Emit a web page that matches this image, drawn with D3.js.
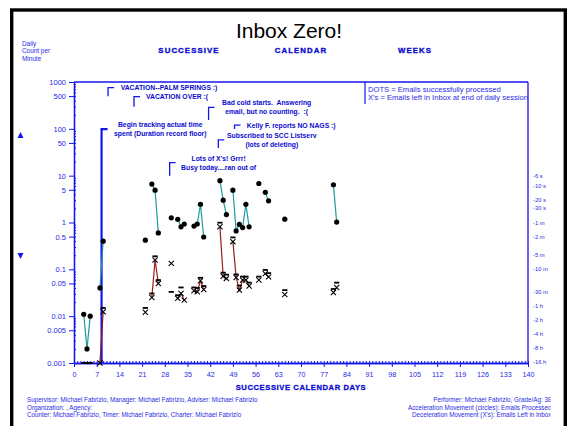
<!DOCTYPE html>
<html>
<head>
<meta charset="utf-8">
<script src="https://cdn.jsdelivr.net/npm/d3@7"></script>
<style>
  body { margin: 0; background: #fff; }
  text { font-family: "Liberation Sans", Arial, sans-serif; }
</style>
</head>
<body>
<div id="chart"></div>
<script>
// calendar day of each recorded session
var days = [3, 4, 5, 8, 9, 22, 24, 25, 26, 30, 32, 33, 34, 37, 38, 39, 40, 45, 46, 47,
  49, 50, 51, 52, 53, 54, 57, 59, 60, 65, 80, 81];
// emails processed per minute (dots)
var dots = [0.011, 0.002, 0.01, 0.04, 0.4, 0.42, 6.6, 4.9, 0.6, 1.26, 1.17, 0.81, 0.93, 0.84, 0.93, 2.45, 0.49, 7.8, 3.0, 1.48,
  4.9, 0.66, 0.91, 0.78, 2.45, 0.81, 6.8, 4.4, 2.9, 1.18, 6.4, 1.02];
// emails left in inbox per minute (X's)
var crosses = [null, null, null, 0.001, 0.0124, 0.0121, 0.025, 0.158, 0.05, 0.134, 0.024, 0.0305, 0.022, 0.035, 0.033, 0.057, 0.037, 0.81, 0.071, 0.064,
  0.39, 0.067, 0.036, 0.059, 0.059, 0.044, 0.059, 0.081, 0.069, 0.029, 0.032, 0.041];
// record floor (1 / duration)
var floors = [0.001, 0.001, 0.001, null, 0.015, 0.015, 0.0305, 0.19, 0.059, 0.033, 0.028, 0.041, null, 0.041, 0.04, 0.066, 0.044, 0.99, 0.085, 0.077,
  0.48, 0.078, 0.045, 0.07, 0.07, 0.052, 0.07, 0.097, 0.083, 0.036, 0.038, 0.052];

var yTicks = [1000, 500, 100, 50, 10, 5, 1, 0.5, 0.1, 0.05, 0.01, 0.005, 0.001];
var xTicks = d3.range(0, 141, 7);
var rightSeconds = [6, 10, 20, 30, 60, 120, 300, 600, 1800, 3600, 7200, 14400, 28800, 57600];
var rightLabels = ["-6 s", "-10 s", "-20 s", "-30 s", "-1 m", "-2 m", "-5 m", "-10 m", "-30 m", "-1 h", "-2 h", "-4 h", "-8 h", "-16 h"];
var topWords = ["SUCCESSIVE", "CALENDAR", "WEEKS"];
var legendLines = ["DOTS = Emails successfully processed", "X's = Emails left in Inbox at end of daily session"];
var footLeft = ["Supervisor: Michael Fabrizio, Manager: Michael Fabrizio, Adviser: Michael Fabrizio",
  "Organization: , Agency:",
  "Counter: Michael Fabrizio, Timer: Michael Fabrizio, Charter: Michael Fabrizio"];
var footRight = ["Performer: Michael Fabrizio, Grade/Ag: 38",
  "Acceleration Movement (circles): Emails Processed",
  "Deceleration Movement (X's): Emails Left in Inbox"];

// phase change notes: day of line, top/bottom value, text day
var notes = [
  {day: 10.5, top: 755, bottom: 494, tday: 14.4, lines: ["VACATION--PALM SPRINGS :)"], anchor: "start"},
  {day: 18.5, top: 485, bottom: 297, tday: 22.2, lines: ["VACATION OVER :("], anchor: "start"},
  {day: 41.5, top: 288, bottom: 154, tday: 59.4, lines: ["Bad cold starts.  Answering", "email, but no counting.  :("], anchor: "middle"},
  {day: 8.5, top: 99, bottom: 0.001, tday: 26.6, lines: ["Begin tracking actual time", "spent (Duration record floor)"], anchor: "middle", thick: true},
  {day: 49.5, top: 120, bottom: 99, tday: 53.3, lines: ["Kelly F. reports NO NAGS :)"], anchor: "start"},
  {day: 44.5, top: 58, bottom: 39, tday: 61, lines: ["Subscribed to SCC Listserv", "(lots of deleting)"], anchor: "middle"},
  {day: 29.5, top: 19, bottom: 10, tday: 44.6, lines: ["Lots of X's! Grrr!", "Busy today....ran out of"], anchor: "middle"}
];

var svgWidth = 573, svgHeight = 426;
var blue = "#1414ee", textBlue = "#2a2ae6", noteBlue = "#0a0ad0";

var svg = d3.select("#chart").append("svg")
  .attr("width", svgWidth)
  .attr("height", svgHeight)
  .style("display", "block");

svg.append("rect").attr("width", svgWidth).attr("height", svgHeight).attr("fill", "#fff");

// outer frame
svg.append("rect")
  .attr("x", 11.7).attr("y", 10)
  .attr("width", 553.6).attr("height", 440)
  .attr("fill", "none").attr("stroke", "#000").attr("stroke-width", 3.4);

var x = d3.scaleLinear().domain([0, 140]).range([74, 528]);
var y = d3.scaleLog().domain([0.001, 1000]).range([363, 82]);

// title and header
svg.append("text").attr("x", 289).attr("y", 38).attr("text-anchor", "middle")
  .style("font-size", "21px").attr("fill", "#000").text("Inbox Zero!");

var wordX = [189, 301, 415];
svg.selectAll(".topword").data(topWords).enter().append("text")
  .attr("x", (d, i) => wordX[i]).attr("y", 52.8)
  .attr("text-anchor", "middle")
  .style("font-size", "7.8px").style("font-weight", "bold").style("letter-spacing", "1.1px")
  .attr("fill", noteBlue).attr("stroke", noteBlue).attr("stroke-width", 0.35)
  .text(d => d);

svg.selectAll(".ylab").data(["Daily", "Count per", "Minute"]).enter().append("text")
  .attr("x", 22).attr("y", (d, i) => 45.5 + i * 7.5)
  .style("font-size", "6.4px").attr("fill", textBlue).text(d => d);

// arrows on left
svg.append("path").attr("d", "M20.5,132 L23.5,138 L17.5,138 Z").attr("fill", blue);
svg.append("path").attr("d", "M17.5,253 L23.5,253 L20.5,259 Z").attr("fill", blue);

// axes
var leftAxis = d3.axisLeft(y).tickValues(yTicks).tickSize(5).tickSizeOuter(0)
  .tickFormat(d => String(d));
var gLeft = svg.append("g").attr("transform", "translate(74,0)").call(leftAxis);

var minor = [];
[0.001, 0.01, 0.1, 1, 10, 100].forEach(function(b) {
  d3.range(2, 10).forEach(function(m) { minor.push(b * m); });
});
var gMinor = svg.append("g").attr("transform", "translate(74,0)")
  .call(d3.axisRight(y).tickValues(minor).tickSize(2).tickSizeOuter(0).tickFormat(""));

var gBottom = svg.append("g").attr("transform", "translate(0,363)")
  .call(d3.axisBottom(x).tickValues(xTicks).tickSize(4).tickSizeOuter(0).tickPadding(5));
var gDaily = svg.append("g").attr("transform", "translate(0,363)")
  .call(d3.axisTop(x).tickValues(d3.range(0, 141, 1)).tickSize(2).tickSizeOuter(0).tickFormat(""));

[gLeft, gMinor, gBottom, gDaily].forEach(function(g) {
  g.select(".domain").attr("stroke", blue).attr("stroke-width", 1.3);
  g.selectAll(".tick line").attr("stroke", blue);
  g.selectAll(".tick text").attr("fill", textBlue)
    .style("font-family", "'Liberation Sans', Arial, sans-serif");
});
gLeft.selectAll(".tick text").style("font-size", "7.5px");
gBottom.selectAll(".tick text").style("font-size", "7.2px");

// top and right border
svg.append("line").attr("x1", 74).attr("x2", 528).attr("y1", 82).attr("y2", 82)
  .attr("stroke", blue).attr("stroke-width", 1.3);
svg.append("line").attr("x1", 528).attr("x2", 528).attr("y1", 82).attr("y2", 363)
  .attr("stroke", blue).attr("stroke-width", 1.3);

// right duration labels
svg.selectAll(".rlab").data(rightSeconds).enter().append("text")
  .attr("x", 533).attr("y", d => y(60 / d) + 2)
  .style("font-size", "5.8px").attr("fill", textBlue)
  .text((d, i) => rightLabels[i]);

svg.append("text").attr("x", 301).attr("y", 390).attr("text-anchor", "middle")
  .style("font-size", "7.6px").style("font-weight", "bold").style("letter-spacing", "0.6px")
  .attr("fill", noteBlue).attr("stroke", noteBlue).attr("stroke-width", 0.3)
  .text("SUCCESSIVE CALENDAR DAYS");

// legend box
svg.append("path").attr("d", "M365,104 V82").attr("stroke", blue).attr("stroke-width", 1.2).attr("fill", "none");
svg.selectAll(".leg").data(legendLines).enter().append("text")
  .attr("x", 368).attr("y", (d, i) => 91.7 + i * 8)
  .style("font-size", "7.6px").attr("fill", textBlue).text(d => d);

// notes (phase change lines)
var noteG = svg.selectAll(".note").data(notes).enter().append("g");
noteG.append("path")
  .attr("d", d => "M" + x(d.day) + "," + y(d.bottom) + "V" + y(d.top) + "H" + (x(d.day) + 6))
  .attr("fill", "none").attr("stroke", blue).attr("stroke-width", d => d.thick ? 2.2 : 1.3);
noteG.each(function(d) {
  var g = d3.select(this);
  var n = d.lines.length;
  d.lines.forEach(function(t, i) {
    g.append("text")
      .attr("x", x(d.tday))
      .attr("y", y(d.top) + (n === 1 ? 0 : (i === 0 ? -4.4 : 4.6)))
      .attr("dy", "0.35em")
      .attr("text-anchor", d.anchor)
      .style("font-size", "6.8px").style("font-weight", "bold").style("white-space", "pre")
      .attr("fill", noteBlue).text(t);
  });
});

// runs of consecutive days
function runs(vals) {
  var out = [], cur = [];
  days.forEach(function(d, i) {
    if (vals[i] == null) { if (cur.length) out.push(cur); cur = []; return; }
    if (cur.length && d - cur[cur.length - 1].day > 1) { out.push(cur); cur = []; }
    cur.push({day: d, v: vals[i]});
  });
  if (cur.length) out.push(cur);
  return out.filter(r => r.length > 1);
}
var line = d3.line().x(d => x(d.day)).y(d => y(d.v));

svg.selectAll(".dotline").data(runs(dots)).enter().append("path")
  .attr("d", line).attr("fill", "none").attr("stroke", "#1f9a9a").attr("stroke-width", 1.2);
svg.selectAll(".xline").data(runs(crosses)).enter().append("path")
  .attr("d", line).attr("fill", "none").attr("stroke", "#981c1c").attr("stroke-width", 1.2);

// record floor dashes
svg.selectAll(".floor").data(days.map((d, i) => ({day: d, v: floors[i]})).filter(d => d.v != null))
  .enter().append("line")
  .attr("x1", d => x(d.day) - 2.6).attr("x2", d => x(d.day) + 2.6)
  .attr("y1", d => y(d.v)).attr("y2", d => y(d.v))
  .attr("stroke", "#000").attr("stroke-width", 1.8);

// X's
svg.selectAll(".cross").data(days.map((d, i) => ({day: d, v: crosses[i]})).filter(d => d.v != null))
  .enter().append("path")
  .attr("transform", d => "translate(" + x(d.day) + "," + y(d.v) + ")")
  .attr("d", "M-2.6,-2.6L2.6,2.6M-2.6,2.6L2.6,-2.6")
  .attr("stroke", "#000").attr("stroke-width", 1.1);

// dots
svg.selectAll(".dot").data(days.map((d, i) => ({day: d, v: dots[i]})))
  .enter().append("circle")
  .attr("cx", d => x(d.day)).attr("cy", d => y(d.v)).attr("r", 2.6)
  .attr("fill", "#000");

// footer
svg.append("clipPath").attr("id", "footclip").append("rect")
  .attr("x", 0).attr("y", 390).attr("width", 550.5).attr("height", 36);
var foot = svg.append("g").attr("clip-path", "url(#footclip)");
foot.selectAll(".fl").data(footLeft).enter().append("text")
  .attr("x", 27).attr("y", (d, i) => 402 + i * 7.6)
  .style("font-size", "6.3px").attr("fill", textBlue).text(d => d);
foot.selectAll(".fr").data(footRight).enter().append("text")
  .attr("x", 551.5).attr("y", (d, i) => 402 + i * 7.6).attr("text-anchor", "end")
  .style("font-size", "6.3px").attr("fill", textBlue).text(d => d);
</script>
</body>
</html>
